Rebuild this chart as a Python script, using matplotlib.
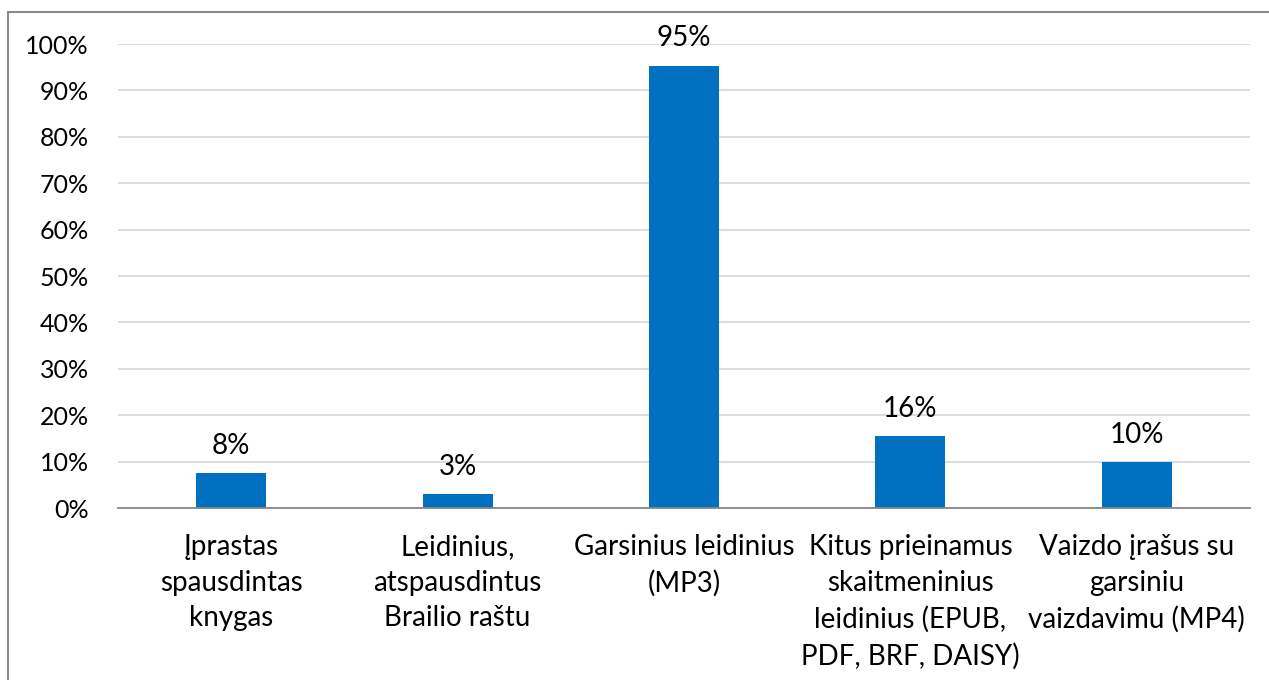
import matplotlib
matplotlib.use("Agg")
import matplotlib.pyplot as plt
from matplotlib.patches import Rectangle
from matplotlib.ticker import PercentFormatter, MultipleLocator

categories = [
    "Įprastas\nspausdintas\nknygas",
    "Leidinius,\natspausdintus\nBrailio raštu",
    "Garsinius leidinius\n(MP3)",
    "Kitus prieinamus\nskaitmeninius\nleidinius (EPUB,\nPDF, BRF, DAISY)",
    "Vaizdo įrašus su\ngarsiniu\nvaizdavimu (MP4)",
]
values = [7.5, 3.0, 95.3, 15.5, 9.9]
labels = ["8%", "3%", "95%", "16%", "10%"]

plt.rcParams['font.family'] = ['Lato', 'DejaVu Sans']
W, H = 1269, 680
fig = plt.figure(figsize=(W / 100, H / 100), dpi=100)
ax = fig.add_axes([118 / W, 1 - 508 / H, (1250 - 118) / W, (508 - 44) / H])

x = list(range(len(categories)))
ax.bar(x, values, width=0.31, color="#0070C0", zorder=3)
ax.set_xlim(-0.5, len(categories) - 0.5)
ax.set_ylim(0, 100)
ax.yaxis.set_major_locator(MultipleLocator(10))
ax.yaxis.set_major_formatter(PercentFormatter(decimals=0))
ax.grid(axis="y", color="#D9D9D9", linewidth=1.3, zorder=0)
for s in ["top", "right", "left"]:
    ax.spines[s].set_visible(False)
ax.spines["bottom"].set_color("#868686")
ax.spines["bottom"].set_linewidth(1.3)
ax.spines["bottom"].set_zorder(4)
ax.tick_params(axis="y", length=0, labelsize=18, colors="#000000", pad=21)
ax.tick_params(axis="x", length=0, labelsize=20, pad=19)
ax.set_xticks(x)
ax.set_xticklabels(categories, linespacing=1.45)
for xi, v, lab in zip(x, values, labels):
    ax.annotate(lab, (xi, v), xytext=(0, 14), textcoords="offset points",
                ha="center", va="baseline", fontsize=20)

fig.patches.append(Rectangle((8 / W, -0.1), 1.2, (1 - 12 / H) + 0.1,
                             transform=fig.transFigure, fill=False,
                             edgecolor="#8C8C8C", linewidth=1.5))
fig.savefig("out.png", dpi=100)
